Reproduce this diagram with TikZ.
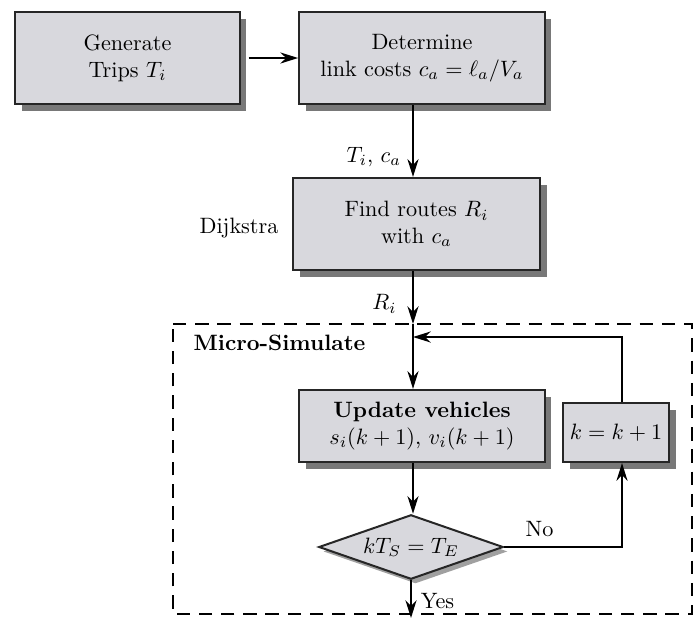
\documentclass[tikz,border=0pt]{standalone}
\usetikzlibrary{shapes.geometric,shadows,arrows.meta,calc}
\definecolor{boxfill}{RGB}{216,216,221}
\definecolor{shadowc}{RGB}{120,120,120}
\begin{document}
\begin{tikzpicture}[x=0.45pt,y=-0.45pt,
  box/.style={draw=black!85,line width=1pt,fill=boxfill,align=center,inner sep=2pt,
    general shadow={fill=shadowc,shadow xshift=3pt,shadow yshift=-3pt}},
  dec/.style={draw=black!85,line width=0.9pt,fill=boxfill,shape=diamond,inner sep=0pt,aspect=2.86,
    general shadow={fill=shadowc!70,shadow xshift=2pt,shadow yshift=-2pt}},
  arr/.style={line width=0.8pt,-{Stealth[length=8pt,width=5pt]}},
  ln/.style={line width=0.8pt},
  lab/.style={inner sep=1pt}]
\useasboundingbox (0,0) rectangle (694,618);
% top row
\node[box,minimum width=101pt,minimum height=41.5pt] (gen) at (127.5,58) {Generate\\Trips $T_i$};
\node[box,minimum width=110.5pt,minimum height=41.5pt] (det) at (422,58) {Determine\\link costs $c_a=\ell_a/V_a$};
\node[box,minimum width=111pt,minimum height=41.4pt] (fin) at (416.5,224) {Find routes $R_i$\\with $c_a$};
\node[lab] (dij) at (239,228) {Dijkstra};
% coordinates of the main column
\coordinate (col) at (413,0);
\coordinate (din) at (413,324);
\coordinate (corner) at (413,337);
\coordinate (kx) at (622,0);
% micro-simulate frame
\draw[line width=0.8pt,dash pattern=on 6pt off 4pt] (173,324) -- (692,324) -- (692,614) -- (173,614) -- cycle;
\node[lab,anchor=west,font=\bfseries] (ms) at (191,343) {Micro-Simulate};
\node[box,minimum width=110.5pt,minimum height=32.4pt] (upd) at (422,426) {\textbf{Update vehicles}\\$s_i(k+1)$, $v_i(k+1)$};
\node[box,minimum width=47.7pt,minimum height=26.5pt] (kb) at (616,432.5) {$k=k+1$};
\node[dec,minimum width=83pt,minimum height=29pt] (dia) at (411,547) {$kT_S=T_E$};
\coordinate (bot) at (411,618);
% connectors
\draw[arr] (gen.east) ++(3.5pt,0) -- (det.west);
\draw[arr] (det.south -| col) -- node[lab,left,pos=0.72,xshift=-4pt] {$T_i$, $c_a$} (fin.north -| col);
\draw[arr] (fin.south -| col) -- node[lab,left,pos=0.62,xshift=-6pt] {$R_i$} (din);
\draw[ln] (din) -- (corner);
\draw[arr] (corner) -- (upd.north -| col);
\draw[arr] (kb.north -| kx) |- (corner);
\draw[arr] (upd.south -| col) -- (dia.north -| col);
\draw[arr] (dia.east) -| node[lab,above,pos=0.15,yshift=3pt] {No} (kb.south -| kx);
\draw[arr] (dia.south) -- node[lab,right,pos=0.55,xshift=3pt] {Yes} (bot);
\end{tikzpicture}
\end{document}
